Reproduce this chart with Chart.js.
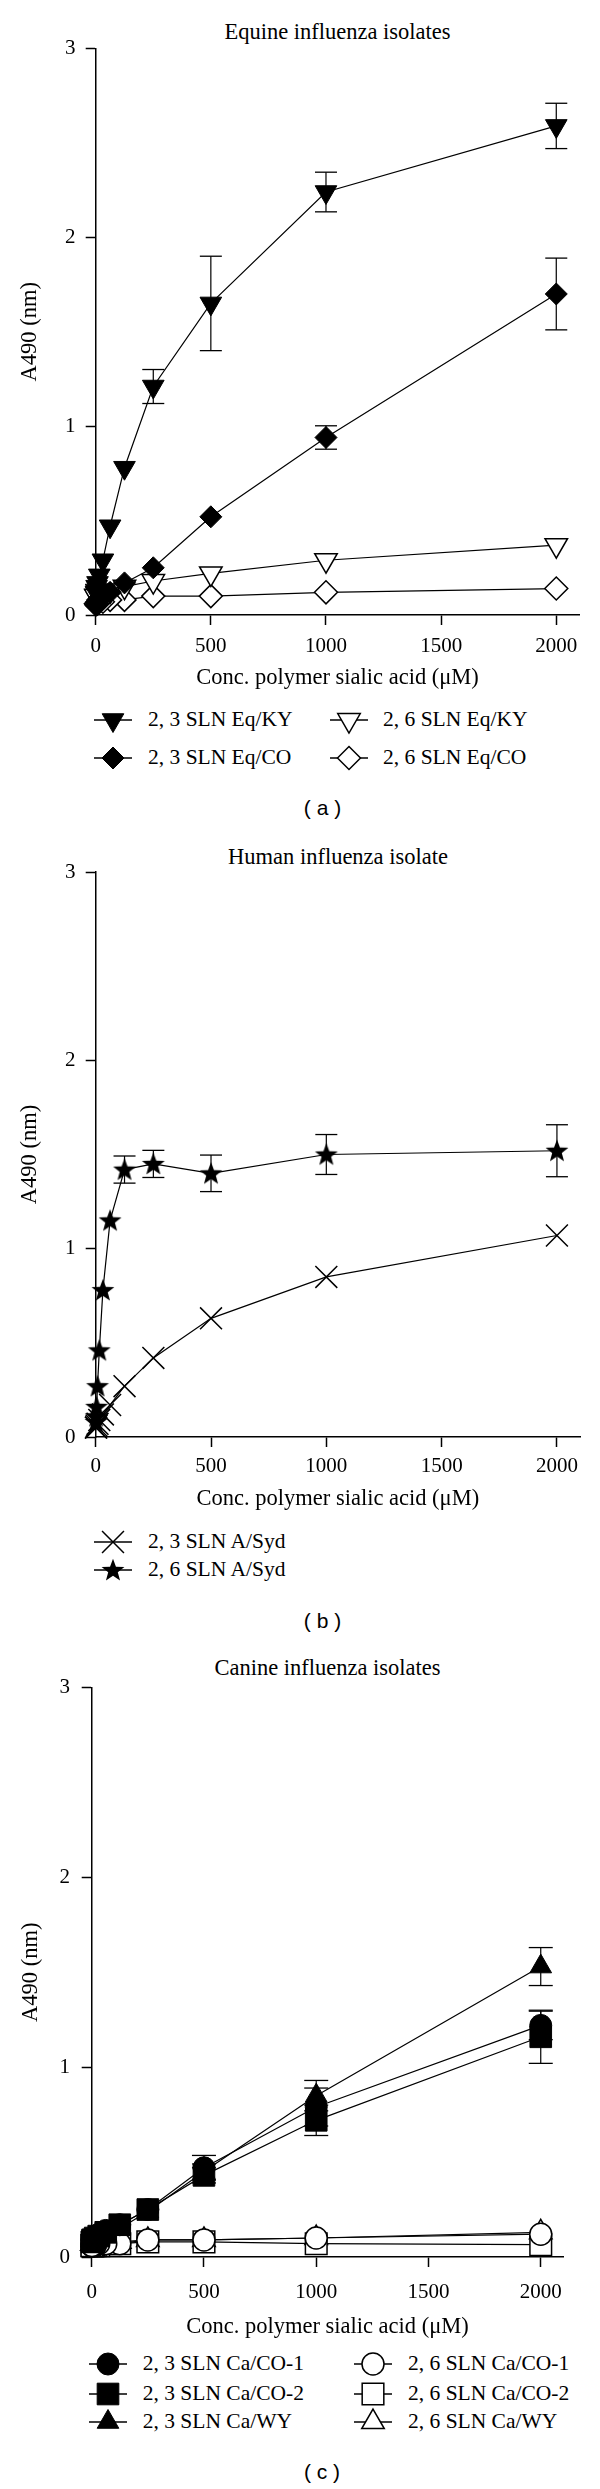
<!DOCTYPE html>
<html>
<head>
<meta charset="utf-8">
<script src="https://cdn.jsdelivr.net/npm/chart.js@4.4.1/dist/chart.umd.min.js"></script>
<style>
html,body{margin:0;padding:0;background:#fff;}
body{width:600px;height:2489px;position:relative;overflow:hidden;font-family:"Liberation Serif","Times New Roman",serif;color:#000;}
canvas{position:absolute;left:0;}
.t{position:absolute;white-space:nowrap;line-height:1;transform:translate(-50%,-50%);font-size:22.5px;}
.sans{font-family:"Liberation Sans",Arial,sans-serif;font-size:21px;}
.lt{position:absolute;white-space:nowrap;line-height:1;transform:translateY(-50%);font-size:21.5px;}
</style>
</head>
<body>
<div class="t" style="left:337.5px;top:32px">Equine influenza isolates</div>
<div class="t" style="left:338px;top:857px">Human influenza isolate</div>
<div class="t" style="left:327.5px;top:1668px">Canine influenza isolates</div>

<div class="lt" style="left:148px;top:720px">2, 3 SLN Eq/KY</div>
<div class="lt" style="left:148px;top:758px">2, 3 SLN Eq/CO</div>
<div class="lt" style="left:383px;top:720px">2, 6 SLN Eq/KY</div>
<div class="lt" style="left:383px;top:758px">2, 6 SLN Eq/CO</div>

<div class="lt" style="left:148px;top:1541.5px">2, 3 SLN A/Syd</div>
<div class="lt" style="left:148px;top:1570px">2, 6 SLN A/Syd</div>

<div class="lt" style="left:142.7px;top:2364px">2, 3 SLN Ca/CO-1</div>
<div class="lt" style="left:142.7px;top:2394px">2, 3 SLN Ca/CO-2</div>
<div class="lt" style="left:142.7px;top:2422px">2, 3 SLN Ca/WY</div>
<div class="lt" style="left:408px;top:2364px">2, 6 SLN Ca/CO-1</div>
<div class="lt" style="left:408px;top:2394px">2, 6 SLN Ca/CO-2</div>
<div class="lt" style="left:408px;top:2422px">2, 6 SLN Ca/WY</div>

<div class="t sans" style="left:322.5px;top:807px">( a )</div>
<div class="t sans" style="left:322.5px;top:1620px">( b )</div>
<div class="t sans" style="left:322px;top:2471px">( c )</div>

<script>
// ---------------- DATA ----------------
const conc = [2000, 1000, 500, 250, 125, 62.5, 31.25, 15.63, 7.81, 3.91, 1.95, 0.98];
const xTicks = [0, 500, 1000, 1500, 2000];
const yTicks = [0, 1, 2, 3];

// (a) Equine influenza isolates
const eqKY23   = [2.59, 2.24, 1.65, 1.21, 0.78, 0.47, 0.29, 0.21, 0.17, 0.15, 0.13, 0.12];
const eqKY23Sd = [0.12, 0.105, 0.25, 0.09, 0, 0, 0, 0, 0, 0, 0, 0];
const eqCO23   = [1.70, 0.94, 0.52, 0.25, 0.17, 0.12, 0.10, 0.09, 0.08, 0.07, 0.06, 0.05];
const eqCO23Sd = [0.19, 0.062, 0, 0, 0, 0, 0, 0, 0, 0, 0, 0];
const eqKY26   = [0.37, 0.29, 0.22, 0.18, 0.15, 0.13, 0.12, 0.11, 0.11, 0.10, 0.10, 0.10];
const eqCO26   = [0.14, 0.12, 0.10, 0.10, 0.08, 0.08, 0.07, 0.07, 0.06, 0.06, 0.06, 0.06];

// (b) Human influenza isolate
const syd23    = [1.07, 0.85, 0.63, 0.42, 0.27, 0.17, 0.12, 0.09, 0.07, 0.06, 0.05, 0.05];
const syd26    = [1.52, 1.50, 1.40, 1.45, 1.42, 1.15, 0.78, 0.46, 0.27, 0.16, 0.11, 0.08];
const syd26Sd  = [0.138, 0.106, 0.097, 0.072, 0.072, 0, 0, 0, 0, 0, 0, 0];

// (c) Canine influenza isolates
const caCO1_23   = [1.22, 0.79, 0.47, 0.25, 0.17, 0.14, 0.12, 0.11, 0.10, 0.10, 0.09, 0.09];
const caCO1_23Sd = [0.075, 0.10, 0.065, 0, 0, 0, 0, 0, 0, 0, 0, 0];
const caCO2_23   = [1.16, 0.72, 0.43, 0.25, 0.17, 0.13, 0.11, 0.10, 0.09, 0.09, 0.08, 0.08];
const caCO2_23Sd = [0.14, 0.08, 0.04, 0, 0, 0, 0, 0, 0, 0, 0, 0];
const caWY_23    = [1.53, 0.85, 0.45, 0.24, 0.15, 0.12, 0.10, 0.09, 0.09, 0.08, 0.08, 0.08];
const caWY_23Sd  = [0.10, 0.08, 0.04, 0, 0, 0, 0, 0, 0, 0, 0, 0];
const caCO1_26   = [0.12, 0.10, 0.09, 0.09, 0.07, 0.07, 0.07, 0.06, 0.06, 0.06, 0.06, 0.06];
const caCO2_26   = [0.065, 0.07, 0.08, 0.08, 0.07, 0.07, 0.06, 0.06, 0.06, 0.06, 0.06, 0.06];
const caWY_26    = [0.13, 0.10, 0.09, 0.09, 0.08, 0.08, 0.07, 0.07, 0.07, 0.07, 0.07, 0.07];

const xTitle = 'Conc. polymer sialic acid (\u03bcM)';
const yTitle = 'A490 (nm)';

// ---------------- STYLES ----------------
function starCanvas(R) {
  const s = Math.ceil(R * 2 + 2);
  const c = document.createElement('canvas');
  c.width = s; c.height = s;
  const g = c.getContext('2d');
  g.translate(s / 2, s / 2 + R * 0.06);
  g.beginPath();
  for (let k = 0; k < 10; k++) {
    const rr = k % 2 === 0 ? R : R * 0.42;
    const a = -Math.PI / 2 + k * Math.PI / 5;
    g.lineTo(rr * Math.cos(a), rr * Math.sin(a));
  }
  g.closePath();
  g.fillStyle = '#000';
  g.fill();
  return c;
}
const STAR = starCanvas(12);

const M = {
  triDownFill: {ps: 'triangle', rot: 180, r: 12.5, fill: '#000', bw: 1},
  triDownOpen: {ps: 'triangle', rot: 180, r: 13, fill: '#fff', bw: 1.5},
  diaFill: {ps: 'rectRot', rot: 0, r: 11, fill: '#000', bw: 1},
  diaOpen: {ps: 'rectRot', rot: 0, r: 11.5, fill: '#fff', bw: 1.5},
  cross: {ps: 'crossRot', rot: 0, r: 15.5, fill: '#000', bw: 1.5},
  star: {ps: STAR, rot: 0, r: 12, fill: '#000', bw: 0},
  circFill: {ps: 'circle', rot: 0, r: 11, fill: '#000', bw: 1},
  circOpen: {ps: 'circle', rot: 0, r: 11, fill: '#fff', bw: 1.5},
  sqFill: {ps: 'rect', rot: 0, r: 15.3, fill: '#000', bw: 1},
  sqOpen: {ps: 'rect', rot: 0, r: 15.3, fill: '#fff', bw: 1.5},
  triUpFill: {ps: 'triangle', rot: 0, r: 12.5, fill: '#000', bw: 1},
  triUpOpen: {ps: 'triangle', rot: 0, r: 13, fill: '#fff', bw: 1.5}
};

// ---------------- PANELS ----------------
const panels = [
  { ct: 0, ch: 700, top: 48.5, bottom: 615, left: 95.7, right: 579.3,
    xpad: 8.4, titleOff: 63, ytpad: 17, ypad: 10.2, cap: 11,
    series: [
      {label: '2, 3 SLN Eq/KY', v: eqKY23, sd: eqKY23Sd, m: M.triDownFill},
      {label: '2, 3 SLN Eq/CO', v: eqCO23, sd: eqCO23Sd, m: M.diaFill},
      {label: '2, 6 SLN Eq/KY', v: eqKY26, m: M.triDownOpen},
      {label: '2, 6 SLN Eq/CO', v: eqCO26, m: M.diaOpen}
    ],
    legend: [[113, 720, 0], [113, 758, 1], [349, 720, 2], [349, 758, 3]] },
  { ct: 810, ch: 710, top: 872, bottom: 1437, left: 95.7, right: 580,
    xpad: 6.4, titleOff: 62, ytpad: 17, ypad: 10.2, cap: 11,
    series: [
      {label: '2, 3 SLN A/Syd', v: syd23, m: M.cross},
      {label: '2, 6 SLN A/Syd', v: syd26, sd: syd26Sd, m: M.star}
    ],
    legend: [[113, 1541.5, 0], [113, 1570, 1]] },
  { ct: 1640, ch: 710, top: 1687.5, bottom: 2257, left: 91.7, right: 563.2,
    xpad: 12.4, titleOff: 70, ytpad: 17.3, ypad: 11.7, cap: 12,
    series: [
      {label: '2, 3 SLN Ca/CO-1', v: caCO1_23, sd: caCO1_23Sd, m: M.circFill},
      {label: '2, 3 SLN Ca/CO-2', v: caCO2_23, sd: caCO2_23Sd, m: M.sqFill},
      {label: '2, 3 SLN Ca/WY', v: caWY_23, sd: caWY_23Sd, m: M.triUpFill},
      {label: '2, 6 SLN Ca/CO-1', v: caCO1_26, m: M.circOpen},
      {label: '2, 6 SLN Ca/CO-2', v: caCO2_26, m: M.sqOpen},
      {label: '2, 6 SLN Ca/WY', v: caWY_26, m: M.triUpOpen}
    ],
    legend: [[108, 2364, 0], [108, 2394, 1], [108, 2422, 2], [373, 2364, 3], [373, 2394, 4], [373, 2422, 5]] }
];

const FONT = 'Liberation Serif';

function drawSymbol(ctx, m, x, y) {
  ctx.save();
  ctx.fillStyle = m.fill;
  ctx.strokeStyle = '#000';
  ctx.lineWidth = m.bw;
  if (Chart.helpers && Chart.helpers.drawPoint) {
    Chart.helpers.drawPoint(ctx, {pointStyle: m.ps, rotation: m.rot, radius: m.r, borderWidth: m.bw}, x, y);
  }
  ctx.restore();
}

panels.forEach(p => {
  const cv = document.createElement('canvas');
  cv.width = 600; cv.height = p.ch;
  cv.style.top = p.ct + 'px';
  document.body.appendChild(cv);

  const datasets = [];
  p.series.forEach(s => {
    datasets.push({
      label: s.label,
      data: conc.map((c, i) => ({x: c, y: s.v[i]})),
      showLine: true,
      borderColor: '#000',
      borderWidth: 1.2,
      backgroundColor: s.m.fill,
      pointStyle: s.m.ps,
      pointRotation: s.m.rot,
      pointRadius: s.m.r,
      pointHoverRadius: s.m.r,
      pointBackgroundColor: s.m.fill,
      pointBorderColor: '#000',
      pointBorderWidth: s.m.bw,
      clip: false,
      order: 0
    });
    if (s.sd) {
      const eb = [];
      conc.forEach((c, i) => {
        if (s.sd[i] > 0) {
          eb.push({x: c, y: s.v[i] - s.sd[i]}, {x: c, y: s.v[i] + s.sd[i]}, {x: c, y: null});
        }
      });
      datasets.push({
        label: s.label + ' SD',
        data: eb,
        showLine: true,
        spanGaps: false,
        borderColor: '#000',
        borderWidth: 1.2,
        pointStyle: 'line',
        pointRadius: p.cap,
        pointHoverRadius: p.cap,
        pointBorderColor: '#000',
        pointBackgroundColor: '#000',
        pointBorderWidth: 1.3,
        clip: false,
        order: 1
      });
    }
  });

  const hx = p.titleOff + 13.5;
  new Chart(cv, {
    type: 'scatter',
    data: {datasets},
    options: {
      responsive: false,
      animation: false,
      devicePixelRatio: 1,
      events: [],
      layout: {padding: {top: p.top - p.ct, left: 0, right: 600 - p.right, bottom: p.ct + p.ch - p.bottom - hx}},
      plugins: {legend: {display: false}, tooltip: {enabled: false}, title: {display: false}},
      scales: {
        x: {
          type: 'linear', min: 0, max: 2100,
          afterBuildTicks: s => { s.ticks = xTicks.map(v => ({value: v})); },
          afterFit: s => { s.height = hx; },
          ticks: {font: {family: FONT, size: 21}, color: '#000', padding: p.xpad, maxRotation: 0, autoSkip: false,
                  callback: v => String(v)},
          grid: {drawOnChartArea: false, drawTicks: true, tickLength: 10, tickColor: '#000', tickWidth: 1.5},
          border: {display: true, color: '#000', width: 1.5},
          title: {display: true, text: xTitle, font: {family: FONT, size: 22.5}, color: '#000', padding: {top: 0, bottom: 0}}
        },
        y: {
          type: 'linear', min: 0, max: 3,
          afterBuildTicks: s => { s.ticks = yTicks.map(v => ({value: v})); },
          afterFit: s => { s.width = p.left; },
          ticks: {font: {family: FONT, size: 21}, color: '#000', padding: p.ypad, callback: v => String(v)},
          grid: {drawOnChartArea: false, drawTicks: true, tickLength: 10, tickColor: '#000', tickWidth: 1.5},
          border: {display: true, color: '#000', width: 1.5},
          title: {display: true, text: yTitle, font: {family: FONT, size: 22.5}, color: '#000', padding: {top: p.ytpad, bottom: 0}}
        }
      }
    }
  });

  // legend symbols (line + marker)
  p.legend.forEach(([x, y, idx]) => {
    const m = p.series[idx].m;
    const c = document.createElement('canvas');
    c.width = 48; c.height = 34;
    c.style.left = (x - 24) + 'px';
    c.style.top = (y - 17) + 'px';
    document.body.appendChild(c);
    const g = c.getContext('2d');
    g.strokeStyle = '#000'; g.lineWidth = 1.3;
    g.beginPath(); g.moveTo(5, 17); g.lineTo(43, 17); g.stroke();
    drawSymbol(g, m, 24, 17);
  });
});
</script>
</body>
</html>
